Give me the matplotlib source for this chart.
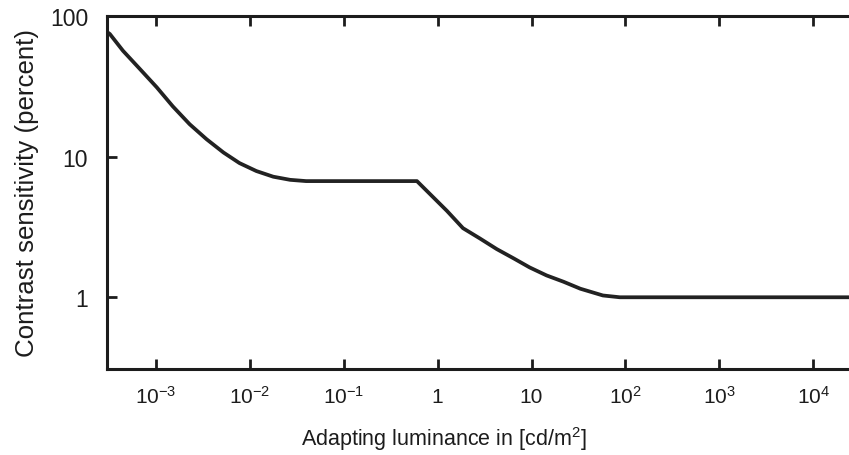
import matplotlib
matplotlib.use("Agg")
import matplotlib.pyplot as plt
import numpy as np

plt.rcParams['font.family'] = ['Liberation Sans', 'DejaVu Sans']
plt.rcParams['mathtext.fontset'] = 'custom'
plt.rcParams['mathtext.rm'] = 'Liberation Sans'
plt.rcParams['mathtext.it'] = 'Liberation Sans'

# log10 of adapting luminance and contrast sensitivity (percent)
log_lum = [-3.52, -3.49, -3.35, -3.17, -2.99, -2.82, -2.64, -2.46, -2.28,
           -2.11, -1.93, -1.75, -1.57, -1.40, -0.22, -0.08, 0.10, 0.27,
           0.45, 0.63, 0.81, 0.98, 1.16, 1.34, 1.52, 1.76, 1.94, 4.38]
sensitivity = [77, 74.5, 56.6, 42.0, 31.1, 22.8, 17.0, 13.3, 10.7,
               9.0, 7.9, 7.2, 6.84, 6.7, 6.7, 5.41, 4.11, 3.10,
               2.62, 2.20, 1.89, 1.63, 1.43, 1.29, 1.15, 1.03, 1.0, 1.0]

x_ticks = [1e-3, 1e-2, 1e-1, 1, 10, 1e2, 1e3, 1e4]
x_labels = [r'$10^{-3}$', r'$10^{-2}$', r'$10^{-1}$', '1', '10',
            r'$10^{2}$', r'$10^{3}$', r'$10^{4}$']
y_ticks = [1, 10, 100]
y_labels = ['1', '10', '100']

ink = '#1c1c1c'

fig = plt.figure(figsize=(8.49, 4.56), dpi=100)
ax = fig.add_axes([107 / 849, 1 - 370 / 456, 1 - 107 / 849, (370 - 17) / 456])

lum = np.power(10.0, log_lum)
ax.plot(lum, sensitivity, color='#222222', lw=2.7,
        solid_joinstyle='round', solid_capstyle='butt')

ax.set_xscale('log')
ax.set_yscale('log')
ax.set_xlim(10 ** -3.52, 10 ** 4.38)
ax.set_ylim(10 ** -0.51, 100)

ax.set_xticks(x_ticks)
ax.set_xticklabels(x_labels)
ax.set_yticks(y_ticks)
ax.set_yticklabels(y_labels)
ax.minorticks_off()

for side in ['left', 'bottom', 'top']:
    ax.spines[side].set_linewidth(2.2)
    ax.spines[side].set_color(ink)
ax.spines['right'].set_visible(False)

ax.tick_params(axis='x', which='major', direction='in', length=7, width=2,
               top=True, labelsize=15, pad=24, colors=ink)
ax.tick_params(axis='y', which='major', direction='in', length=7, width=2,
               labelsize=16.5, pad=13.5, colors=ink)
for lab in ax.get_xticklabels():
    lab.set_verticalalignment('baseline')

# the label sits left of the axes centre in the reference (the plot is cropped)
ax.set_xlabel('Adapting luminance in [cd/m$^2$]', fontsize=15.5, labelpad=13,
              color=ink, x=(444 - 107) / (849 - 107))
ax.set_ylabel('Contrast sensitivity (percent)', fontsize=18.6, labelpad=8,
              color=ink)

fig.savefig('out.png', dpi=100)
